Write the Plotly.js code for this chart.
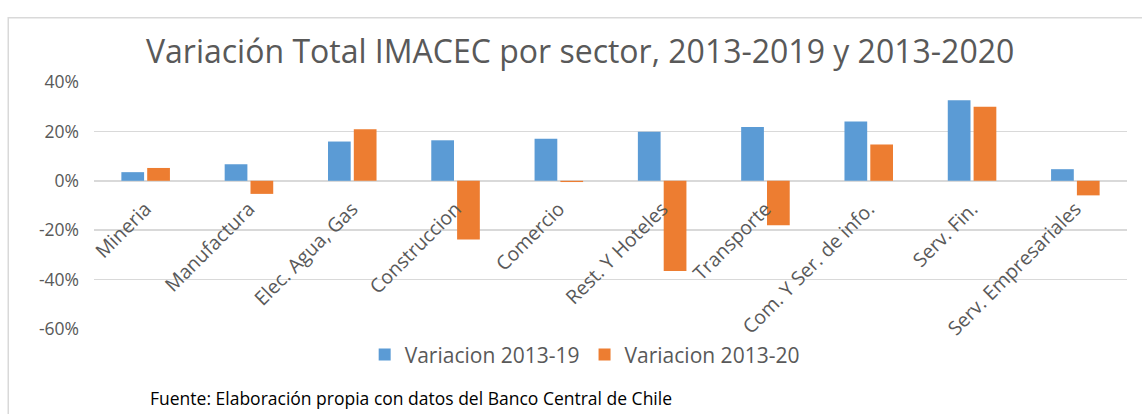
<!DOCTYPE html>
<html>
<head>
<meta charset="utf-8">
<script src="https://cdn.plot.ly/plotly-3.0.1.min.js"></script>
<style>html,body{margin:0;padding:0;background:#fff;}#chart{width:1142px;height:414px;}</style>
</head>
<body>
<div id="chart"></div>
<script>
const categories = ["Mineria", "Manufactura", "Elec. Agua, Gas", "Construccion", "Comercio", "Rest. Y Hoteles", "Transporte", "Com. Y Ser. de info.", "Serv. Fin.", "Serv. Empresariales"];
const variacion2019 = [0.035, 0.067, 0.159, 0.164, 0.170, 0.199, 0.218, 0.240, 0.326, 0.047];
const variacion2020 = [0.052, -0.053, 0.209, -0.238, -0.005, -0.365, -0.180, 0.147, 0.300, -0.059];
const seriesNames = ["Variacion 2013-19", "Variacion 2013-20"];
const yTickVals = [-0.6, -0.4, -0.2, 0, 0.2, 0.4];
const yTickText = ["-60%", "-40%", "-20%", "0%", "20%", "40%"];
const titleText = "Variación Total IMACEC por sector, 2013-2019 y 2013-2020";
const sourceText = "Fuente: Elaboración propia con datos del Banco Central de Chile";

const font = "Open Sans, Liberation Sans, sans-serif";
const gray = "#595959";

const traces = [
  {type: "bar", name: seriesNames[0], x: categories, y: variacion2019, marker: {color: "#5B9BD5"}, hoverinfo: "none"},
  {type: "bar", name: seriesNames[1], x: categories, y: variacion2020, marker: {color: "#ED7D31"}, hoverinfo: "none"}
];

const layout = {
  width: 1142, height: 414,
  margin: {l: 94, r: 15, t: 82, b: 85},
  paper_bgcolor: "#fff", plot_bgcolor: "#fff",
  barmode: "group", bargap: 0.5, bargroupgap: 0.12,
  font: {family: font, color: gray, size: 17},
  title: {text: titleText, font: {family: font, size: 32, color: gray}, x: 0.508, xanchor: "center", y: 0.875, yanchor: "middle"},
  xaxis: {type: "category", tickangle: -45, showgrid: false, showline: false, ticks: "", tickfont: {size: 19.5, color: gray}, automargin: false, anchor: "free", position: 0.6, ticklabelstandoff: 12},
  yaxis: {range: [-0.6, 0.4], tickvals: yTickVals, ticktext: yTickText, gridcolor: "#d9d9d9", gridwidth: 1.5, zeroline: true, zerolinecolor: "#d9d9d9", zerolinewidth: 1.5, showline: false, ticks: "", ticklabelstandoff: 14, tickfont: {size: 17.5, color: gray}, automargin: false},
  showlegend: true,
  legend: {orientation: "h", x: 0.475, xanchor: "center", y: -0.105, yanchor: "middle", font: {size: 21, color: gray}, itemwidth: 30, tracegroupgap: 0},
  shapes: [
    {type: "rect", xref: "paper", yref: "paper", x0: -0.083, x1: 1.02, y0: -0.4, y1: 1.26, line: {color: "#d9d9d9", width: 1.5}, fillcolor: "rgba(0,0,0,0)"}
  ],
  annotations: [
    {text: sourceText, xref: "paper", yref: "paper", x: 0.052, xanchor: "left", y: -0.279, yanchor: "middle", showarrow: false, font: {family: font, size: 17.5, color: "#000"}}
  ]
};

Plotly.newPlot("chart", traces, layout, {displayModeBar: false, staticPlot: true});
</script>
</body>
</html>
